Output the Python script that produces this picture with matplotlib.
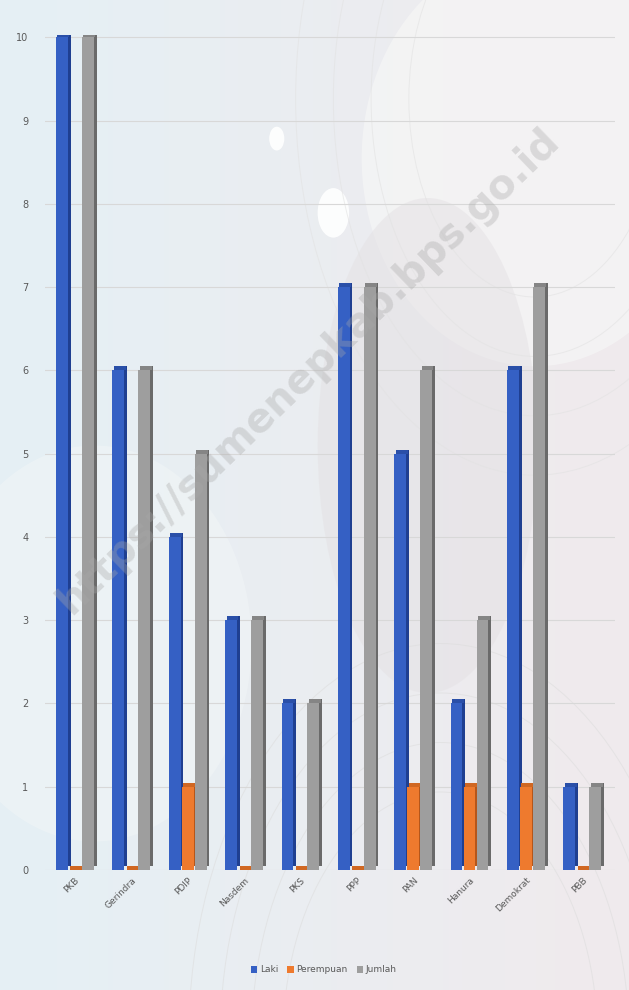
import matplotlib
matplotlib.use("Agg")
import matplotlib.pyplot as plt
import numpy as np
from matplotlib.patches import Circle, Ellipse

categories = ["PKB", "Gerindra", "PDIP", "Nasdem", "PKS", "PPP", "PAN", "Hanura", "Demokrat", "PBB"]
laki = [10, 6, 4, 3, 2, 7, 5, 2, 6, 1]
perempuan = [0, 0, 1, 0, 0, 0, 1, 1, 1, 0]
jumlah = [10, 6, 5, 3, 2, 7, 6, 3, 7, 1]
series_names = ["Laki", "Perempuan", "Jumlah"]
yticks = list(range(0, 11))

front_colors = ["#3560C4", "#EE7A2E", "#9E9E9E"]
side_colors = ["#1F3F91", "#B5561A", "#6A6A6A"]
top_colors = ["#2A4FA8", "#D06722", "#858585"]

fig = plt.figure(figsize=(6.29, 9.9), dpi=100)

# background
bg = fig.add_axes([0, 0, 1, 1], zorder=0)
gx = np.linspace(0, 1, 300)
gy = np.linspace(0, 1, 300)
X, Y = np.meshgrid(gx, gy)
c_left = np.array([0.90, 0.94, 0.96])
c_right = np.array([0.94, 0.92, 0.93])
t = np.clip(X * 1.1 - 0.05, 0, 1)[..., None]
img = c_left * (1 - t) + c_right * t
bg.imshow(img, extent=[0, 1, 0, 1], origin="lower", aspect="auto")
bg.add_patch(Ellipse((0.85, 0.84), 0.55, 0.42, color="#F6F6F6", alpha=0.7, lw=0))
bg.add_patch(Ellipse((0.15, 0.35), 0.5, 0.4, color="#F2F6F7", alpha=0.5, lw=0))
bg.add_patch(Ellipse((0.68, 0.55), 0.35, 0.5, color="#E4E1E4", alpha=0.5, lw=0))
bg.add_patch(Circle((0.53, 0.785), 0.025, color="white", alpha=0.9, lw=0))
bg.add_patch(Circle((0.44, 0.86), 0.012, color="white", alpha=0.9, lw=0))
for r in [0.25, 0.3, 0.35, 0.4]:
    bg.add_patch(Circle((0.7, -0.05), r, fill=False, ec="#DDDDDD", lw=0.7, alpha=0.6))
for r in [0.2, 0.26, 0.32, 0.38]:
    bg.add_patch(Circle((0.85, 0.9), r, fill=False, ec="#E2E2E2", lw=0.7, alpha=0.6))
bg.set_xlim(0, 1)
bg.set_ylim(0, 1)
bg.axis("off")

ax = fig.add_axes([45 / 629, 1 - 870 / 990, 570 / 629, 835 / 990], zorder=1)
ax.patch.set_alpha(0)

x = np.arange(len(categories))
offsets = [-0.23, 0.0, 0.23]
w = 0.21
dx = 0.05
dy = 0.05
all_series = [laki, perempuan, jumlah]
for s, vals in enumerate(all_series):
    xs = x + offsets[s]
    ax.bar(xs + dx / 2 + w / 2 - 0.001, vals, width=dx, bottom=dy, color=side_colors[s], align="center", zorder=3 + s * 0.1)
    ax.bar(xs + dx / 2, [dy] * len(vals), width=w, bottom=vals, color=top_colors[s], zorder=3 + s * 0.1)
    ax.bar(xs, vals, width=w, color=front_colors[s], zorder=3.05 + s * 0.1, label=series_names[s])

ax.set_xlim(-0.53, 9.58)
ax.set_ylim(0, 10.03)
ax.set_yticks(yticks)
ax.set_yticklabels([str(v) for v in yticks], fontsize=7, color="#595959")
ax.yaxis.grid(True, color="#D8D8D8", lw=0.8, zorder=1)
ax.set_axisbelow(True)
ax.tick_params(axis="y", length=0, pad=12)
ax.tick_params(axis="x", length=0, pad=4)
ax.set_xticks(x)
ax.set_xticklabels(categories, rotation=45, ha="right", rotation_mode="anchor", fontsize=6.5, color="#595959")
for sp in ax.spines.values():
    sp.set_visible(False)

leg = fig.legend(*ax.get_legend_handles_labels(), loc="center", bbox_to_anchor=(0.515, 1 - 970 / 990),
                 ncol=3, frameon=False, fontsize=6.5, handlelength=0.7, handleheight=0.7,
                 handletextpad=0.3, columnspacing=1.0, labelcolor="#595959")

fig.text(0.49, 0.625, "https://sumenepkab.bps.go.id", rotation=44, fontsize=29, fontweight="semibold",
         color="#A8A8A8", alpha=0.35, ha="center", va="center", zorder=5)

fig.savefig("out.png", dpi=100)
